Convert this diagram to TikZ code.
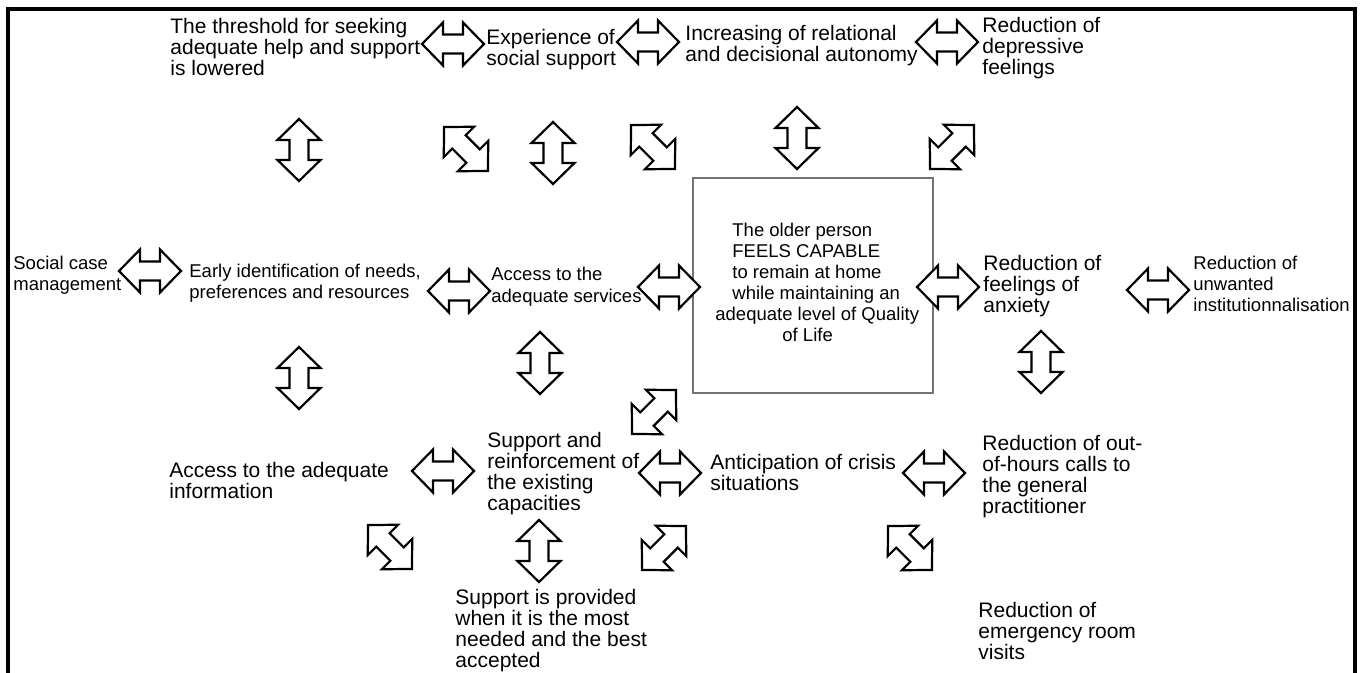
\documentclass[tikz,border=0pt]{standalone}
\usepackage{fontspec}
\setmainfont{Liberation Sans}
\tikzset{
  lbl/.style={anchor=base west, inner sep=0pt, align=left, font=\fontsize{10.5pt}{10.5pt}\selectfont},
  slbl/.style={lbl, font=\fontsize{9.25pt}{10.5pt}\selectfont},
  arrowline/.style={draw=black, line width=1.1pt, line join=miter, fill=white},
  frameline/.style={draw=black, line width=1.75pt},
  centrebox/.style={draw=black!55, line width=1pt, inner sep=0pt},
  dbl/.pic={\path[arrowline] (-31,0) -- (-10,21.5) -- (-10,9.5) -- (10,9.5) -- (10,21.5) -- (31,0)
     -- (10,-21.5) -- (10,-9.5) -- (-10,-9.5) -- (-10,-21.5) -- cycle;}
}
\begin{document}
\begin{tikzpicture}[x=0.5pt,y=-0.5pt]
\useasboundingbox (0,0) rectangle (1363,673);
% frame
\coordinate (fbl) at (8,673);
\coordinate (ftl) at (8,9);
\coordinate (ftr) at (1355,9);
\coordinate (fbr) at (1355,673);
\draw[frameline] (fbl) -- (ftl) -- (ftr) -- (fbr);
% central box
\node[centrebox, anchor=north west, minimum width=120pt, minimum height=107.5pt] (box) at (692,177) {};
% texts (anchored at the baseline of their last line)
\node[slbl] (boxtext) at (732,342) {The older person\\FEELS CAPABLE\\to remain at home\\while maintaining an\\\hspace*{-8.5pt}adequate level of Quality\\\hspace*{25pt}of Life};
\node[lbl] (t1) at (170,76) {The threshold for seeking\\adequate help and support\\is lowered};
\node[lbl] (t2) at (486,66) {Experience of\\social support};
\node[lbl] (t3) at (685,62) {Increasing of relational\\and decisional autonomy};
\node[lbl] (t4) at (982,75) {Reduction of\\depressive\\feelings};
\node[slbl] (t5) at (13,291) {Social case\\management};
\node[slbl] (t6) at (189,299) {Early identification of needs,\\preferences and resources};
\node[slbl] (t7) at (491,302) {Access to the\\adequate services};
\node[lbl] (t8) at (983,313) {Reduction of\\feelings of\\anxiety};
\node[slbl] (t9) at (1193,312) {Reduction of\\unwanted\\institutionnalisation};
\node[lbl] (t10) at (169,498) {Access to the adequate\\information};
\node[lbl] (t11) at (487,510) {Support and\\reinforcement of\\the existing\\capacities};
\node[lbl] (t12) at (710,490) {Anticipation of crisis\\situations};
\node[lbl] (t13) at (982,513) {Reduction of out-\\of-hours calls to\\the general\\practitioner};
\node[lbl] (t14) at (455,667) {Support is provided\\when it is the most\\needed and the best\\accepted};
\node[lbl] (t15) at (978,659) {Reduction of\\emergency room\\visits};
% block arrows
\pic (h1) at (453,44) {dbl};
\pic (h2) at (648,42) {dbl};
\pic (h3) at (947,42) {dbl};
\pic[rotate=90] (v1) at (299,150) {dbl};
\pic[rotate=-45] (d1) at (466,149) {dbl};
\pic[rotate=90] (v2) at (553,153) {dbl};
\pic[rotate=-45] (d2) at (653,147) {dbl};
\pic[rotate=90] (v3) at (797,138) {dbl};
\pic[rotate=45] (d3) at (952,147) {dbl};
\pic (h4) at (150,271) {dbl};
\pic (h5) at (459,291) {dbl};
\pic (h6) at (669,287) {dbl};
\pic (h7) at (948,287) {dbl};
\pic (h8) at (1158,290) {dbl};
\pic[rotate=90] (v4) at (299,378) {dbl};
\pic[rotate=90] (v5) at (540,363) {dbl};
\pic[rotate=90] (v6) at (1041,362) {dbl};
\pic[rotate=45] (d4) at (654,412) {dbl};
\pic (h9) at (443,471) {dbl};
\pic (h10) at (670,473) {dbl};
\pic (h11) at (934,473) {dbl};
\pic[rotate=-45] (d5) at (390,547) {dbl};
\pic[rotate=90] (v7) at (539,551) {dbl};
\pic[rotate=45] (d6) at (664,548) {dbl};
\pic[rotate=-45] (d7) at (910,548) {dbl};
\end{tikzpicture}
\end{document}
